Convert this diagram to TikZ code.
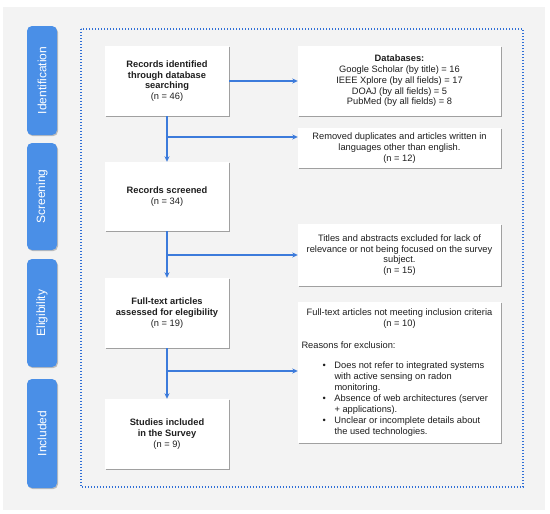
\documentclass[tikz,border=0pt]{standalone}
\usepackage{fontspec}
\setmainfont{Liberation Sans}
\usetikzlibrary{arrows.meta,shadows}
\definecolor{bgray}{HTML}{F3F3F3}
\definecolor{phaseblue}{HTML}{4A8FE7}
\definecolor{arrowblue}{HTML}{3C7BDB}
\definecolor{dotblue}{HTML}{2F6FD6}
\definecolor{txt}{HTML}{1E1E1E}
\tikzset{
  box/.style={draw=none, fill=white, inner sep=0pt, align=center, text=txt,
    font=\fontsize{9.3}{10.75}\selectfont,
    drop shadow={shadow xshift=1.2pt, shadow yshift=-1.4pt, fill=black!45, opacity=0.8}},
  mainbox/.style={box, minimum width=124pt},
  sidebox/.style={box, minimum width=203pt},
  phase/.style={fill=phaseblue, rounded corners=5pt, text=white, minimum height=30pt,
    font=\fontsize{12}{14}\selectfont, rotate=90, inner sep=0pt,
    drop shadow={shadow xshift=1pt, shadow yshift=-1.2pt, fill=black!35, opacity=0.7}},
  flow/.style={draw=arrowblue, line width=1.2pt, -{Stealth[length=5.5pt,width=5pt]}},
}
\begin{document}
\begin{tikzpicture}[x=1pt,y=-1pt]
\useasboundingbox (0,0) rectangle (550,514);
\fill[white] (0,0) rectangle (550,514);
\fill[bgray] (3,7) rectangle (545,510);
\draw[dotblue, line width=1.1pt, dash pattern=on 1.1pt off 1.9pt] (81,29) rectangle (523,487);

% phases
\node[phase, minimum width=109pt] (pid) at (42,80.5) {Identification};
\node[phase, minimum width=107pt] (psc) at (42,196.5) {Screening};
\node[phase, minimum width=108pt] (pel) at (42,313) {Eligibility};
\node[phase, minimum width=109pt] (pin) at (42,433.5) {Included};

% main boxes
\node[mainbox, minimum height=70pt] (rec) at (167,81) {\textbf{Records identified}\\\textbf{through database}\\\textbf{searching}\\(n = 46)};
\node[mainbox, minimum height=69pt] (scr) at (167,196.5) {\textbf{Records screened}\\(n = 34)};
\node[mainbox, minimum height=70pt] (elig) at (167,313) {\textbf{Full-text articles}\\\textbf{assessed for elegibility}\\(n = 19)};
\node[mainbox, minimum height=70pt] (inc) at (167,434) {\textbf{Studies included}\\\textbf{in the Survey}\\(n = 9)};

% side boxes
\node[sidebox, minimum height=70pt] (db) at (399.5,81) {\textbf{Databases:}\\Google Scholar (by title) = 16\\IEEE Xplore (by all fields) = 17\\DOAJ (by all fields) = 5\\PubMed (by all fields) = 8};
\node[sidebox, minimum height=40pt] (dup) at (399.5,148) {Removed duplicates and articles written in\\languages other than english.\\(n = 12)};
\node[sidebox, minimum height=62pt] (tit) at (399.5,255) {Titles and abstracts excluded for lack of\\relevance or not being focused on the survey\\subject.\\(n = 15)};
\node[sidebox, minimum height=141pt] (ft) at (399.5,372.5) {%
\begin{minipage}{196pt}\fontsize{9.3}{11}\selectfont\centering
Full-text articles not meeting inclusion criteria\\(n = 10)\par\vspace{11pt}
\raggedright Reasons for exclusion:\par\vspace{9pt}
\hangindent=33pt\hangafter=1\hspace*{21pt}\makebox[12pt][l]{\textbullet}Does not refer to integrated systems\newline with active sensing on radon\newline monitoring.\par
\hangindent=33pt\hangafter=1\hspace*{21pt}\makebox[12pt][l]{\textbullet}Absence of web architectures (server\newline + applications).\par
\hangindent=33pt\hangafter=1\hspace*{21pt}\makebox[12pt][l]{\textbullet}Unclear or incomplete details about\newline the used technologies.\par
\end{minipage}};

% connectors
\coordinate (j1) at (167,137);
\coordinate (j2) at (167,255);
\coordinate (j3) at (167,371);
\draw[flow] (rec.east) -- (db.west);
\draw[flow] (rec.south) -- (scr.north);
\draw[flow] (j1) -- (dup.west |- j1);
\draw[flow] (scr.south) -- (elig.north);
\draw[flow] (j2) -- (tit.west |- j2);
\draw[flow] (elig.south) -- (inc.north);
\draw[flow] (j3) -- (ft.west |- j3);
\end{tikzpicture}
\end{document}
